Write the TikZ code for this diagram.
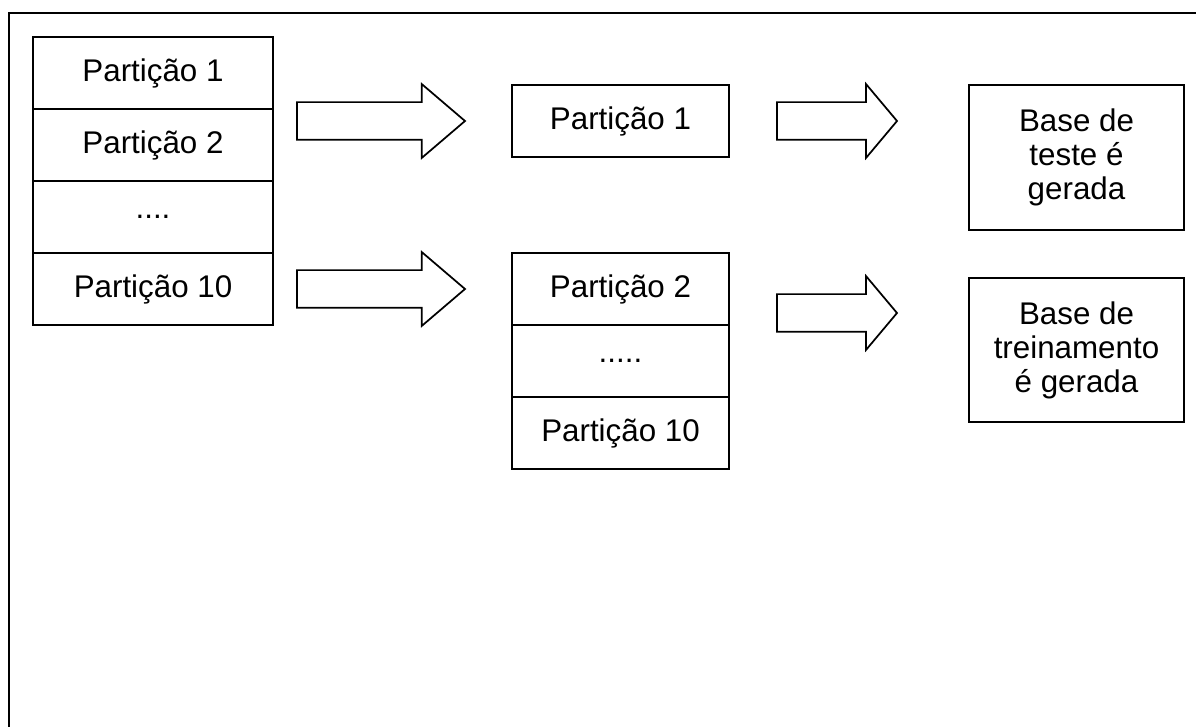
\documentclass[tikz,border=0pt]{standalone}
\usepackage{fontspec}
\setmainfont{Liberation Sans}
\usetikzlibrary{positioning, calc, shapes.arrows}

\begin{document}
\begin{tikzpicture}[
    part/.style={rectangle, draw, minimum width=180pt, minimum height=54pt, inner sep=0pt, outer sep=0pt, line width=1.3pt, font=\fontsize{23.5pt}{25.5pt}\selectfont},
    cell/.style={part, minimum width=162.75pt},
    base/.style={part, minimum width=161.25pt, minimum height=108.5pt, align=center},
    fat/.style={single arrow, draw, line width=1.3pt, inner sep=0pt, outer sep=0pt, inner ysep=13.5pt, single arrow head extend=13.5pt},
  ]
    \useasboundingbox (0,0) rectangle (897pt,-545.25pt);
    % open frame: only top and left edges
    \draw[line width=2pt] (6.75pt,-545.25pt) |- (897pt,-9.75pt);

    % the ten partitions
    \node[part, anchor=north west] (p1) at (24.75pt,-27.75pt) {Partição 1};
    \node[part, below=0pt of p1] (p2) {Partição 2};
    \node[part, below=0pt of p2] (p3) {....};
    \node[part, below=0pt of p3] (p4) {Partição 10};

    % split
    \node[cell, below right=36pt and 179.25pt of p1.north east] (m1) {Partição 1};
    \node[cell, below right=0pt and 179.25pt of p4.north east] (m2) {Partição 2};
    \node[cell, below=0pt of m2] (m3) {.....};
    \node[cell, below=0pt of m3] (m4) {Partição 10};

    % results
    \node[base, below right=0pt and 180pt of m1.north east] (r1) {Base de\\teste é\\gerada};
    \node[base, below=36pt of r1] (r2) {Base de\\treinamento\\é gerada};

    \node[fat, single arrow tip angle=81, minimum height=126pt, anchor=tail] (a1) at ($(p1.east |- m1.west)+(18pt,0)$) {};
    \node[fat, single arrow tip angle=81, minimum height=126pt, right=18pt of p4] (a2) {};
    \node[fat, single arrow tip angle=100, minimum height=90pt, right=36pt of m1] (a3) {};
    \node[fat, single arrow tip angle=100, minimum height=90pt, anchor=tail] (a4) at ($(m2.south east)+(36pt,9pt)$) {};
  \end{tikzpicture}
\end{document}
